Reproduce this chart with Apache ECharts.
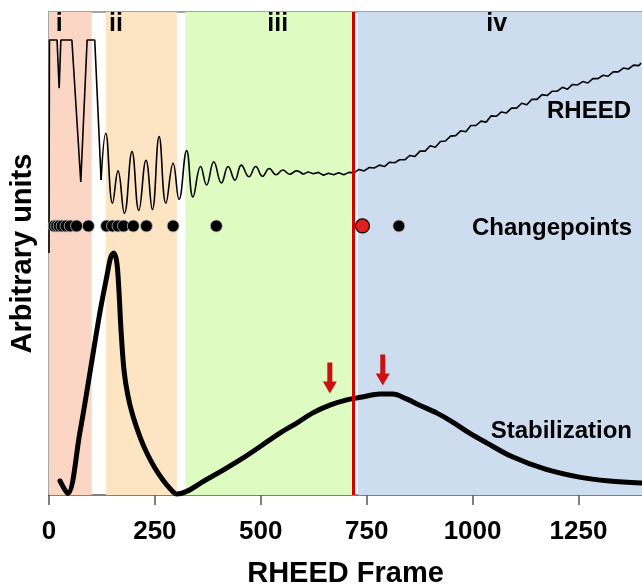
<!DOCTYPE html>
<html><head><meta charset="utf-8">
<script src="https://cdn.jsdelivr.net/npm/echarts@6/dist/echarts.min.js"></script>
<style>html,body{margin:0;padding:0;background:#fff}#c{width:642px;height:586px}</style>
</head><body><div id="c"></div>
<script>
// ---- data ----
const xTickLabels = ['0','250','500','750','1000','1250'];
const regionNames = ['i','ii','iii','iv'];
const regionStart = [0,134,322,729];
const regionEnd = [101,302,718,1400];
const regionLabelFrame = [24,158,540,1057];
const transitionFrame = 718;

// RHEED intensity (arbitrary units), [frame, value]
const rheedEarly = [[0,50.1],[1,94.2],[19,94.2],[24,84.2],[28,94.2],[54,94.2],[75,64.8],[90,94.2],[108,94.2],[123,65.2]];
const rheedOsc = [[123,65.2],[134,74.9],[150,60.4],[163,67.1],[178,58.3],[196,71.1],[212,58.9],[229,69.3],[244,59.1],[260,74.2],[276,60.4],[293,68.7],[307,61.2],[325,71.3],[340,61.7],[358,68.0],[372,64.2],[389,69.0],[407,64.6],[423,68.0],[439,65.2],[454,68.3],[472,65.9],[488,68.0],[504,66.0],[520,67.6],[536,66.3],[552,67.3],[568,66.4],[584,67.1],[600,66.4]];
const rheedTail = [[600,66.4],[612,66.9],[624,66.5],[636,66.8],[648,66.2],[660,66.6],[672,66.3],[684,66.7],[696,66.3],[708,66.8],[720,66.7],[732,67.4],[744,67.1],[756,67.8],[768,67.7],[780,68.3],[792,68.0],[804,68.9],[816,68.8],[828,69.4],[840,69.4],[852,70.3],[864,70.1],[876,71.2],[888,71.2],[900,72.3],[912,72.0],[924,73.2],[936,73.3],[948,74.3],[960,74.4],[972,75.4],[984,75.2],[996,76.5],[1008,76.5],[1020,77.4],[1032,77.2],[1044,78.5],[1056,78.4],[1068,79.3],[1080,79.1],[1092,80.1],[1104,80.1],[1116,81.1],[1128,80.8],[1140,81.9],[1152,81.9],[1164,82.9],[1176,82.7],[1188,83.6],[1200,83.6],[1212,84.4],[1224,84.0],[1236,85.0],[1248,84.9],[1260,85.6],[1272,85.3],[1284,86.2],[1296,86.2],[1308,86.9],[1320,86.7],[1332,87.6],[1344,87.6],[1356,88.4],[1368,88.2],[1380,89.0],[1392,88.9],[1398,89.4]];

const changepointFrames = [12,18,24,31,40,50,65,93,136,150,163,176,199,230,293,395,826];
const selectedChangepoint = 740;
const changepointLevel = 55.7;

const stabilization = [[26,2.9],[44,0.3],[73,13.0],[97,25.5],[120,37.7],[137,45.5],[146,49.3],[153,50.1],[160,48.2],[165,42.4],[170,34.2],[177,25.9],[186,20.7],[198,16.4],[215,12.0],[231,8.7],[250,5.6],[269,3.1],[285,1.4],[302,0.2],[370,3.1],[450,7.2],[545,12.8],[585,14.9],[623,17.0],[663,18.6],[703,19.7],[740,20.3],[781,20.9],[811,20.9],[844,19.9],[875,18.6],[915,17.0],[953,15.1],[993,12.8],[1033,10.8],[1094,7.9],[1170,5.4],[1252,3.7],[1323,2.9],[1398,2.5]];

const arrowFrames = [663,788];
const arrowLevels = [24.2,25.9];

const seriesLabels = ['RHEED','Changepoints','Stabilization'];

// ---- chart ----
const FONT = '"Liberation Sans", Arial, sans-serif';
const bandColors = ['#fcd6c5','#fde5c3','#defbc1','#cddcee'];
const chart = echarts.init(document.getElementById('c'), null, {renderer:'canvas'});

const bands = regionNames.map((n,i)=>[
  {xAxis:regionStart[i], itemStyle:{color:bandColors[i]}},
  {xAxis:regionEnd[i]}
]);
const txt = (s)=>({text:s, fill:'#000', fontFamily:FONT, fontWeight:'bold', fontSize:24, textAlign:'right', textVerticalAlign:'middle'});

const option = {
  animation:false,
  backgroundColor:'#fff',
  grid:{left:49, right:0, top:12, bottom:91, containLabel:false, outerBoundsMode:'none'},
  xAxis:[{
    type:'value', min:0, max:1400, interval:250, position:'bottom',
    axisLine:{show:true, onZero:false, lineStyle:{color:'#555', width:1.5}},
    axisTick:{show:true, length:10, lineStyle:{color:'#555', width:1.5}},
    axisLabel:{show:true, margin:24, color:'#000', fontFamily:FONT, fontWeight:'bold', fontSize:26,
      showMaxLabel:false, formatter:(v)=>{const i=Math.round(v/250); return xTickLabels[i]!==undefined && v%250===0 ? xTickLabels[i] : '';}},
    splitLine:{show:false},
    name:'RHEED Frame', nameLocation:'middle', nameGap:64,
    nameTextStyle:{color:'#000', fontFamily:FONT, fontWeight:'bold', fontSize:29}
  },{
    type:'value', min:0, max:1400, position:'top',
    axisLine:{show:true, onZero:false, lineStyle:{color:'#888', width:1.5}},
    axisTick:{show:false}, axisLabel:{show:false}, splitLine:{show:false}
  }],
  yAxis:{
    type:'value', min:0, max:100,
    axisLine:{show:true, onZero:false, lineStyle:{color:'#888', width:1.5}},
    axisTick:{show:false}, axisLabel:{show:false}, splitLine:{show:false},
    name:'Arbitrary units', nameLocation:'middle', nameGap:12,
    nameTextStyle:{color:'#000', fontFamily:FONT, fontWeight:'bold', fontSize:29}
  },
  series:[
    {type:'scatter', data:[], z:1, silent:true,
      markArea:{silent:true, data:bands}},
    {type:'line', data:rheedEarly, z:3, showSymbol:false, symbol:'none', smooth:false,
      lineStyle:{color:'#000', width:1.6}},
    {type:'line', data:rheedOsc, z:3, showSymbol:false, symbol:'none', smooth:0.45,
      lineStyle:{color:'#000', width:1.6},
      markLine:{silent:true, symbol:'none', label:{show:false},
        lineStyle:{color:'#d40000', width:3, type:'solid'},
        data:[{xAxis:transitionFrame}]}},
    {type:'line', data:rheedTail, z:3, showSymbol:false, symbol:'none', smooth:false,
      lineStyle:{color:'#000', width:1.6}},
    {type:'scatter', z:4, symbol:'circle', symbolSize:12,
      itemStyle:{color:'#000', borderColor:'#bbb', borderWidth:0.8, opacity:1},
      data:changepointFrames.map(f=>[f,changepointLevel])},
    {type:'scatter', z:5, symbol:'circle', symbolSize:14,
      itemStyle:{color:'#e02020', borderColor:'#000', borderWidth:1.2, opacity:1},
      data:[[selectedChangepoint,changepointLevel]]},
    {type:'line', data:stabilization, z:4, showSymbol:false, symbol:'none', smooth:0.35,
      lineStyle:{color:'#000', width:5, cap:'round', join:'round'}},
    {type:'scatter', z:6, symbol:'path://M4,0 L9,0 L9,19 L13.5,19 L6.5,31 L-0.5,19 L4,19 Z',
      symbolSize:[14,31], itemStyle:{color:'#cc1010', opacity:1},
      data:arrowFrames.map((f,i)=>[f,arrowLevels[i]])},
    {type:'scatter', z:6, symbolSize:1, silent:true,
      itemStyle:{opacity:0},
      label:{show:true, position:'inside', formatter:'{b}', color:'#000', opacity:1, fontFamily:FONT, fontWeight:'bold', fontSize:25},
      data:regionNames.map((n,i)=>({name:n, value:[regionLabelFrame[i], 97.5]}))}
  ],
  graphic:[
    {type:'text', x:631, y:111, z:100, style:txt(seriesLabels[0])},
    {type:'text', x:632, y:228, z:100, style:txt(seriesLabels[1])},
    {type:'text', x:632, y:431, z:100, style:txt(seriesLabels[2])}
  ]
};
chart.setOption(option);
</script></body></html>
